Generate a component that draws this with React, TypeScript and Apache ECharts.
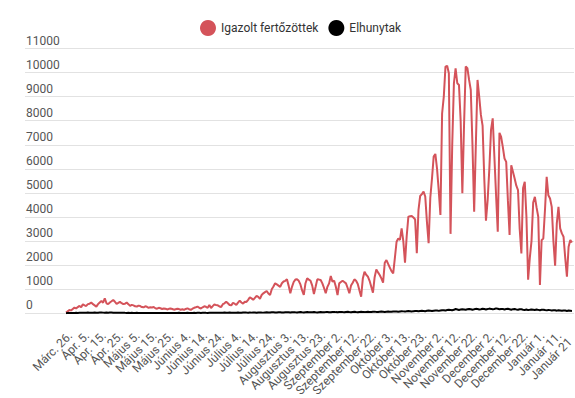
import React, { useEffect, useRef } from 'react';
import * as echarts from 'echarts';

const tickLabels = [
  'Márc. 26.', 'Ápr. 5.', 'Ápr. 15.', 'Ápr. 25.', 'Május 5.', 'Május 15.', 'Május 25.',
  'Június 4.', 'Június 14.', 'Június 24.', 'Július 4.', 'Július 14.', 'Július 24.',
  'Augusztus 3.', 'Augusztus 13.', 'Augusztus 23.', 'Szeptember 2.', 'Szeptember 12.',
  'Szeptember 22.', 'Október 3.', 'Október 13.', 'Október 23.', 'November 2.',
  'November 12.', 'November 22.', 'December 2.', 'December 12.', 'December 22.',
  'Január 1.', 'Január 11.', 'Január 21'
];
const tickStep = 10;

const yTicks = { min: 0, max: 11000, step: 1000 };

const seriesNames = ['Igazolt fertőzöttek', 'Elhunytak'];

const cases = [
  30, 80, 140, 120, 180, 236, 200, 260, 306, 250,
  375, 330, 306, 380, 400, 445, 380, 330, 278, 380,
  450, 515, 440, 625, 417, 380, 450, 500, 556, 480,
  389, 430, 473, 420, 380, 400, 445, 380, 306, 350,
  330, 290, 278, 320, 300, 260, 250, 290, 270, 230,
  250, 240, 260, 208, 190, 230, 210, 180, 200, 190,
  160, 185, 200, 180, 150, 170, 190, 175, 150, 167,
  140, 180, 207, 170, 140, 190, 230, 250, 277, 230,
  200, 250, 290, 270, 230, 346, 220, 300, 373, 340,
  330, 280, 260, 380, 415, 484, 420, 346, 330, 430,
  400, 346, 440, 525, 450, 400, 480, 470, 560, 664,
  620, 560, 640, 720, 680, 600, 760, 830, 880, 927,
  820, 760, 1000, 1110, 1245, 1200, 1150, 1100, 1250, 1320,
  1350, 1410, 1150, 830, 1100, 1300, 1400, 1411, 1350, 1200,
  950, 761, 1250, 1452, 1400, 1350, 1150, 800, 1100, 1410,
  1400, 1383, 1244, 1050, 830, 1100, 1244, 1549, 1314, 1355,
  1100, 760, 1244, 1300, 1355, 1300, 1244, 1050, 830, 1150,
  1272, 1410, 1350, 1217, 950, 690, 1450, 1729, 1600, 1521,
  1350, 1100, 857, 1500, 1825, 1700, 1590, 1450, 1272, 2100,
  2213, 2050, 1900, 1750, 1660, 2300, 2973, 3112, 3050, 3527,
  3000, 2102, 3200, 4016, 4030, 4040, 3980, 3900, 2493, 4300,
  4875, 4950, 5055, 4850, 3800, 2908, 4800, 5600, 6510, 6620,
  6000, 5100, 4086, 8300, 9000, 10250, 10280, 9970, 3300, 7000,
  9556, 10180, 9556, 9487, 8000, 4986, 7800, 10250, 10180, 9695,
  9277, 7000, 4224, 7000, 9695, 9000, 8240, 7800, 5600, 3850,
  4700, 6000, 7617, 8100, 6500, 4900, 3388, 7496, 7330, 6900,
  6430, 6290, 4700, 3250, 6154, 5880, 5600, 5300, 5117, 3500,
  2490, 5200, 5460, 4000, 1400, 2300, 3000, 4600, 4840, 4400,
  4011, 1175, 3040, 3110, 4300, 5670, 4900, 4770, 4420, 3000,
  1977, 3734, 4426, 3527, 3320, 3181, 2300, 1521, 2766, 3043, 2940
];

const deaths = [
  5, 8, 10, 12, 8, 15, 18, 12, 20, 22,
  25, 18, 22, 30, 28, 20, 25, 32, 27, 24,
  30, 35, 28, 22, 30, 26, 33, 29, 24, 20,
  25, 28, 22, 18, 24, 20, 17, 22, 15, 19,
  16, 13, 18, 15, 12, 16, 14, 11, 15, 13,
  10, 14, 12, 9, 13, 11, 15, 10, 12, 14,
  11, 9, 13, 16, 12, 10, 14, 18, 15, 12,
  16, 13, 19, 15, 11, 17, 20, 14, 18, 22,
  16, 20, 24, 19, 15, 22, 26, 20, 24, 28,
  21, 18, 25, 23, 29, 20, 26, 30, 24, 21,
  28, 25, 32, 27, 22, 30, 35, 29, 26, 33,
  28, 36, 31, 25, 34, 38, 32, 28, 37, 41,
  35, 30, 39, 43, 36, 32, 41, 45, 38, 34,
  40, 46, 42, 33, 44, 48, 41, 36, 45, 50,
  43, 37, 47, 52, 45, 39, 48, 51, 44, 38,
  46, 53, 47, 40, 49, 55, 48, 42, 51, 56,
  49, 43, 52, 58, 50, 44, 54, 60, 52, 46,
  55, 61, 53, 47, 57, 63, 55, 49, 58, 65,
  57, 51, 60, 67, 59, 53, 62, 70, 64, 56,
  66, 74, 68, 60, 72, 80, 75, 66, 78, 86,
  80, 70, 84, 92, 86, 76, 90, 98, 91, 82,
  95, 104, 98, 88, 102, 112, 105, 94, 110, 120,
  113, 101, 118, 130, 124, 112, 135, 150, 140, 125,
  145, 178, 160, 140, 155, 170, 162, 148, 168, 182,
  170, 150, 165, 185, 175, 158, 172, 190, 178, 160,
  175, 195, 183, 165, 180, 205, 188, 170, 182, 176,
  160, 178, 185, 168, 150, 172, 180, 162, 148, 170,
  165, 150, 140, 158, 132, 145, 160, 150, 138, 155,
  142, 128, 145, 150, 135, 122, 140, 132, 118, 130,
  125, 110, 128, 120, 105, 118, 112, 98, 115, 108, 100
];

const RED = '#d4535a';
const BLACK = '#000000';

export default function App() {
  const ref = useRef<HTMLDivElement>(null);

  useEffect(() => {
    if (!ref.current) return;
    const chart = echarts.init(ref.current, null, { renderer: 'svg' });
    const tickValues = tickLabels.map((_, k) => k * tickStep);
    const lastIdx = tickLabels.length - 1;
    const labelFont = { fontSize: 12, color: '#555', fontFamily: 'Roboto' };
    chart.setOption({
      animation: false,
      textStyle: { fontFamily: 'Roboto' },
      legend: {
        top: 15,
        left: 195,
        icon: 'circle',
        itemWidth: 16,
        itemHeight: 16,
        itemGap: 10,
        textStyle: { fontSize: 12, color: '#333', fontFamily: 'Roboto' },
        data: seriesNames,
      },
      grid: { left: 25, right: 1, top: 48.5, bottom: 84.7, outerBoundsMode: 'none' },
      xAxis: {
        type: 'value',
        min: -24.3,
        max: 301.2,
        splitLine: { show: false },
        axisLine: { show: false },
        axisTick: { show: false },
        axisLabel: {
          customValues: tickValues,
          formatter: (v: number) => {
            const k = Math.round(v / tickStep);
            const t = tickLabels[k] ?? '';
            return k === lastIdx ? `{last|${t}}` : t;
          },
          rich: { last: { ...labelFont, padding: [0, 9, 0, 0] } },
          rotate: 45,
          ...labelFont,
          margin: 9,
          verticalAlign: 'top',
          padding: [5, 5, 0, 0],
          showMinLabel: true,
          showMaxLabel: true,
          hideOverlap: false,
        },
      },
      yAxis: {
        type: 'value',
        min: yTicks.min,
        max: yTicks.max,
        interval: yTicks.step,
        axisLine: { show: false },
        axisTick: { show: false },
        splitLine: { lineStyle: { color: '#e2e2e2', width: 1 } },
        axisLabel: {
          inside: true,
          margin: 1,
          verticalAlign: 'bottom',
          padding: [0, 0, 2, 0],
          fontSize: 12,
          color: '#555',
          fontFamily: 'Roboto',
          formatter: (v: number) => String(v),
        },
      },
      series: [
        {
          name: seriesNames[0],
          type: 'line',
          data: cases.map((v, i) => [i, v]),
          showSymbol: false,
          symbol: 'none',
          lineStyle: { color: RED, width: 2 },
          itemStyle: { color: RED },
        },
        {
          name: seriesNames[1],
          type: 'line',
          data: deaths.map((v, i) => [i, v]),
          showSymbol: false,
          symbol: 'none',
          lineStyle: { color: BLACK, width: 2 },
          itemStyle: { color: BLACK },
        },
      ],
    });
    return () => chart.dispose();
  }, []);

  return (
    <div
      ref={ref}
      style={{ position: 'absolute', left: 0, top: 0, width: 575, height: 398 }}
    />
  );
}
